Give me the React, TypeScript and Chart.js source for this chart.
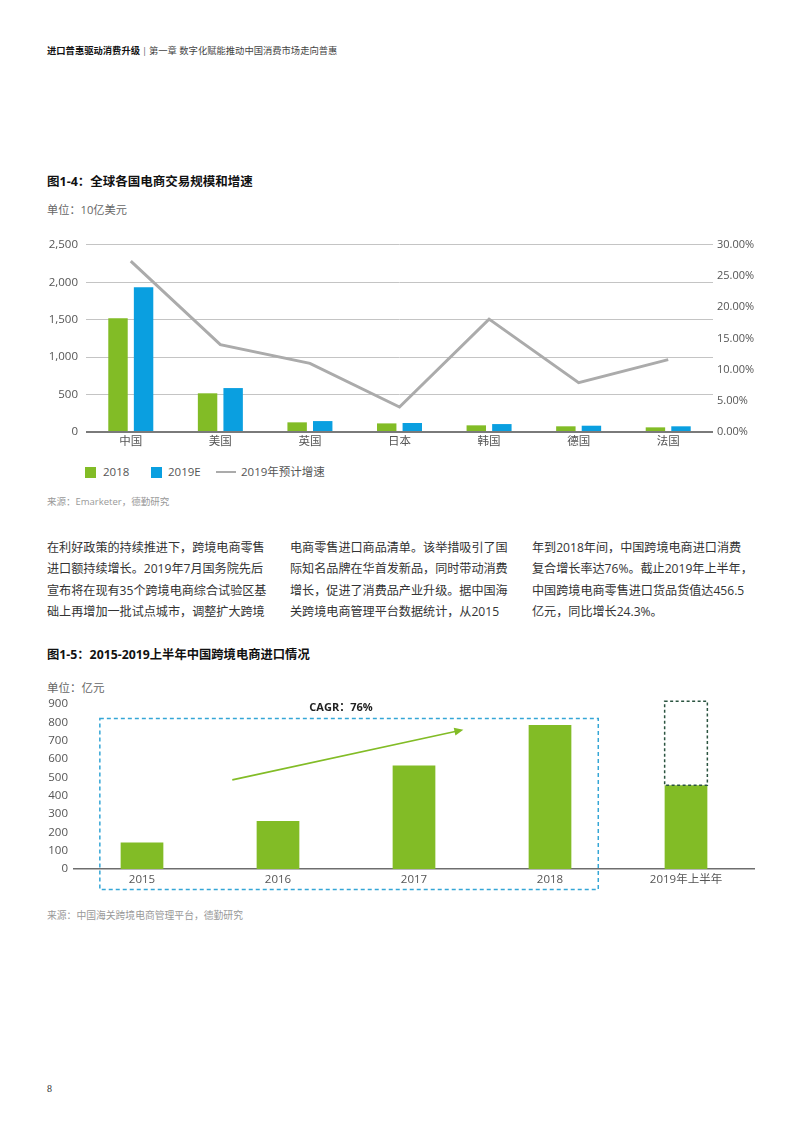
import React, { useEffect, useRef } from 'react';
import { Chart, registerables } from 'chart.js';
Chart.register(...registerables);

// ---------- Data: Figure 1-4 ----------
const countries = ['中国', '美国', '英国', '日本', '韩国', '德国', '法国'];
const sales2018 = [1520, 517, 129, 115, 89, 76, 62];
const sales2019E = [1935, 587, 146, 120, 106, 84, 76];
const growth2019 = [27.4, 14.0, 11.0, 4.0, 18.1, 7.9, 11.6];
const leftMax = 2500;
const leftStep = 500;
const rightMax = 30;
const rightStep = 5;

// ---------- Data: Figure 1-5 ----------
const years = ['2015', '2016', '2017', '2018', '2019年上半年'];
const imports = [145, 262, 565, 785, 456.5];
const projected2019 = 915;
const importsMax = 900;
const importsStep = 100;

const GREEN = '#82bc26';
const BLUE = '#0a9fe0';
const LINE_GRAY = '#ababab';
const FONT = "'Open Sans', 'Noto Sans CJK SC', sans-serif";

function T(props: { x: number; y: number; size: number; color?: string; weight?: number; children: React.ReactNode; align?: 'left' | 'center' }) {
  const lh = props.size * 1.4;
  const style: React.CSSProperties = {
    position: 'absolute',
    top: props.y - lh / 2,
    left: props.x,
    fontSize: props.size,
    lineHeight: lh + 'px',
    color: props.color || '#333',
    fontWeight: props.weight || 400,
    whiteSpace: 'nowrap',
    fontFamily: FONT,
  };
  if (props.align === 'center') style.transform = 'translateX(-50%)';
  return <div style={style}>{props.children}</div>;
}

function Chart14() {
  const ref = useRef<HTMLCanvasElement | null>(null);
  useEffect(() => {
    if (!ref.current) return;
    const tickFont = { family: FONT, size: 11.5 };
    const chart = new Chart(ref.current, {
      type: 'bar',
      data: {
        labels: countries,
        datasets: [
          {
            type: 'line',
            label: '2019年预计增速',
            data: growth2019,
            yAxisID: 'y1',
            borderColor: LINE_GRAY,
            borderWidth: 3,
            pointRadius: 0,
            tension: 0,
            order: 0,
          } as any,
          {
            label: '2018',
            data: sales2018,
            backgroundColor: GREEN,
            yAxisID: 'y',
            categoryPercentage: 0.571,
            barPercentage: 0.76,
            order: 1,
          },
          {
            label: '2019E',
            data: sales2019E,
            backgroundColor: BLUE,
            yAxisID: 'y',
            categoryPercentage: 0.571,
            barPercentage: 0.76,
            order: 1,
          },
        ],
      },
      options: {
        responsive: false,
        animation: false,
        layout: { padding: { top: 8, left: 0, right: 0, bottom: 0 } },
        plugins: { legend: { display: false }, tooltip: { enabled: false } },
        scales: {
          x: {
            grid: { display: false, drawTicks: false },
            border: { display: false },
            ticks: { color: '#555', font: tickFont, padding: 3 },
            afterFit: (s: any) => { s.height = 20; },
          },
          y: {
            position: 'left',
            min: 0,
            max: leftMax,
            ticks: {
              stepSize: leftStep,
              color: '#555',
              font: tickFont,
              padding: 8,
              callback: (v: any) => Number(v).toLocaleString('en-US'),
            },
            grid: {
              drawTicks: false,
              color: (c: any) => (c.tick && c.tick.value === 0 ? '#7a7a7a' : '#c4c4c4'),
              lineWidth: (c: any) => (c.tick && c.tick.value === 0 ? 2 : 1),
            },
            border: { display: false },
            afterFit: (s: any) => { s.width = 56; },
          },
          y1: {
            position: 'right',
            min: 0,
            max: rightMax,
            ticks: {
              stepSize: rightStep,
              color: '#555',
              font: { family: FONT, size: 11 },
              padding: 4,
              callback: (v: any) => Number(v).toFixed(2) + '%',
            },
            grid: { display: false, drawTicks: false },
            border: { display: false },
            afterFit: (s: any) => { s.width = 77; },
          },
        },
      },
    });
    return () => chart.destroy();
  }, []);
  return (
    <canvas
      ref={ref}
      width={760}
      height={222}
      style={{ position: 'absolute', left: 30, top: 230, width: 760, height: 222 }}
    />
  );
}

const annotations15 = {
  id: 'annotations15',
  afterDatasetsDraw(chart: any) {
    const ctx = chart.ctx;
    const xs = chart.scales.x;
    const ys = chart.scales.y;
    const catW = xs.getPixelForValue(1) - xs.getPixelForValue(0);
    ctx.save();
    // projected full-year 2019 dashed box
    const el = chart.getDatasetMeta(0).data[4];
    const half = el.width / 2;
    const top = ys.getPixelForValue(projected2019);
    const bot = ys.getPixelForValue(imports[4]);
    ctx.setLineDash([3, 2.5]);
    ctx.lineWidth = 1.5;
    ctx.strokeStyle = '#2b5440';
    ctx.strokeRect(el.x - half, top, half * 2, bot - top);
    // blue dashed frame around 2015-2018
    const left = xs.getPixelForValue(0) - 0.31 * catW;
    const right = xs.getPixelForValue(3) + 0.355 * catW;
    const fTop = ys.getPixelForValue(821);
    const fBot = chart.chartArea.bottom + 20.5;
    ctx.setLineDash([4, 3]);
    ctx.strokeStyle = '#35a6d6';
    ctx.lineWidth = 1.5;
    ctx.strokeRect(left, fTop, right - left, fBot - fTop);
    // green growth arrow
    const x0 = xs.getPixelForValue(0) + 0.664 * catW;
    const y0 = ys.getPixelForValue(486);
    const x1 = xs.getPixelForValue(2) + 0.363 * catW;
    const y1 = ys.getPixelForValue(760);
    ctx.setLineDash([]);
    ctx.strokeStyle = GREEN;
    ctx.fillStyle = GREEN;
    ctx.lineWidth = 1.6;
    const ang = Math.atan2(y1 - y0, x1 - x0);
    const hl = 9;
    ctx.beginPath();
    ctx.moveTo(x0, y0);
    ctx.lineTo(x1 - Math.cos(ang) * hl * 0.8, y1 - Math.sin(ang) * hl * 0.8);
    ctx.stroke();
    ctx.beginPath();
    ctx.moveTo(x1, y1);
    ctx.lineTo(x1 - hl * Math.cos(ang) + 4 * Math.sin(ang), y1 - hl * Math.sin(ang) - 4 * Math.cos(ang));
    ctx.lineTo(x1 - hl * Math.cos(ang) - 4 * Math.sin(ang), y1 - hl * Math.sin(ang) + 4 * Math.cos(ang));
    ctx.closePath();
    ctx.fill();
    ctx.restore();
  },
};

function Chart15() {
  const ref = useRef<HTMLCanvasElement | null>(null);
  useEffect(() => {
    if (!ref.current) return;
    const tickFont = { family: FONT, size: 11.5 };
    const chart = new Chart(ref.current, {
      type: 'bar',
      data: {
        labels: years,
        datasets: [
          {
            label: '跨境电商进口',
            data: imports,
            backgroundColor: GREEN,
            categoryPercentage: 0.314,
            barPercentage: 1,
          },
        ],
      },
      options: {
        responsive: false,
        animation: false,
        layout: { padding: { top: 14, left: 0, right: 16, bottom: 0 } },
        plugins: { legend: { display: false }, tooltip: { enabled: false } },
        scales: {
          x: {
            grid: { display: false, drawTicks: false },
            border: { display: true, color: '#6e6e6e', width: 1.5 },
            ticks: { color: '#555', font: tickFont, padding: 4 },
            afterFit: (s: any) => { s.height = 26; },
          },
          y: {
            min: 0,
            max: importsMax,
            ticks: { stepSize: importsStep, color: '#555', font: tickFont, padding: 6 },
            grid: { display: false, drawTicks: false },
            border: { display: false },
            afterFit: (s: any) => { s.width = 44; },
          },
        },
      },
      plugins: [annotations15],
    });
    return () => chart.destroy();
  }, []);
  return (
    <canvas
      ref={ref}
      width={740}
      height={205}
      style={{ position: 'absolute', left: 30, top: 690, width: 740, height: 205 }}
    />
  );
}

const para1 = [
  '在利好政策的持续推进下，跨境电商零售',
  '进口额持续增长。2019年7月国务院先后',
  '宣布将在现有35个跨境电商综合试验区基',
  '础上再增加一批试点城市，调整扩大跨境',
];
const para2 = [
  '电商零售进口商品清单。该举措吸引了国',
  '际知名品牌在华首发新品，同时带动消费',
  '增长，促进了消费品产业升级。据中国海',
  '关跨境电商管理平台数据统计，从2015',
];
const para3 = [
  '年到2018年间，中国跨境电商进口消费',
  '复合增长率达76%。截止2019年上半年，',
  '中国跨境电商零售进口货品货值达456.5',
  '亿元，同比增长24.3%。',
];
const paraLineY = [548, 569.5, 591, 612.5];

export default function App() {
  useEffect(() => {
    document.body.style.margin = '0';
    document.body.style.background = '#fff';
  }, []);
  return (
    <div style={{ position: 'relative', width: 802, height: 1133, background: '#fff', overflow: 'hidden', fontFamily: FONT }}>
      {/* header */}
      <T x={47} y={50.5} size={9.3} color="#111" weight={700}>进口普惠驱动消费升级</T>
      <T x={142} y={50.5} size={9.3} color="#666">|</T>
      <T x={149} y={50.5} size={9.3} color="#444">第一章 数字化赋能推动中国消费市场走向普惠</T>

      {/* Figure 1-4 */}
      <T x={47} y={181.5} size={12.5} color="#111" weight={700}>图1-4：全球各国电商交易规模和增速</T>
      <T x={47} y={209.5} size={11.2} color="#666">单位：10亿美元</T>
      <Chart14 />
      {/* legend */}
      <div style={{ position: 'absolute', left: 85, top: 467, width: 11, height: 10.5, background: GREEN }} />
      <T x={103} y={472} size={11.5} color="#555">2018</T>
      <div style={{ position: 'absolute', left: 151, top: 467, width: 11, height: 10.5, background: BLUE }} />
      <T x={168} y={472} size={11.5} color="#555">2019E</T>
      <div style={{ position: 'absolute', left: 216, top: 471, width: 20, height: 2, background: LINE_GRAY }} />
      <T x={241} y={472} size={11.5} color="#555">2019年预计增速</T>
      <T x={47} y={502} size={9.5} color="#999">来源：Emarketer，德勤研究</T>

      {/* paragraphs */}
      {para1.map((s, i) => <T key={'a' + i} x={47} y={paraLineY[i]} size={12.1} color="#333">{s}</T>)}
      {para2.map((s, i) => <T key={'b' + i} x={290} y={paraLineY[i]} size={12.1} color="#333">{s}</T>)}
      {para3.map((s, i) => <T key={'c' + i} x={532} y={paraLineY[i]} size={12.1} color="#333">{s}</T>)}

      {/* Figure 1-5 */}
      <T x={47} y={655} size={12.3} color="#111" weight={700}>图1-5：2015-2019上半年中国跨境电商进口情况</T>
      <T x={47} y={688} size={11.5} color="#666">单位：亿元</T>
      <Chart15 />
      <T x={341} y={707} size={11} color="#222" weight={700} align="center">CAGR：76%</T>
      <T x={47} y={916} size={9.8} color="#999">来源：中国海关跨境电商管理平台，德勤研究</T>

      {/* page number */}
      <div style={{ position: 'absolute', left: 47, top: 1083, fontFamily: 'serif', fontSize: 10, color: '#333' }}>8</div>
    </div>
  );
}
